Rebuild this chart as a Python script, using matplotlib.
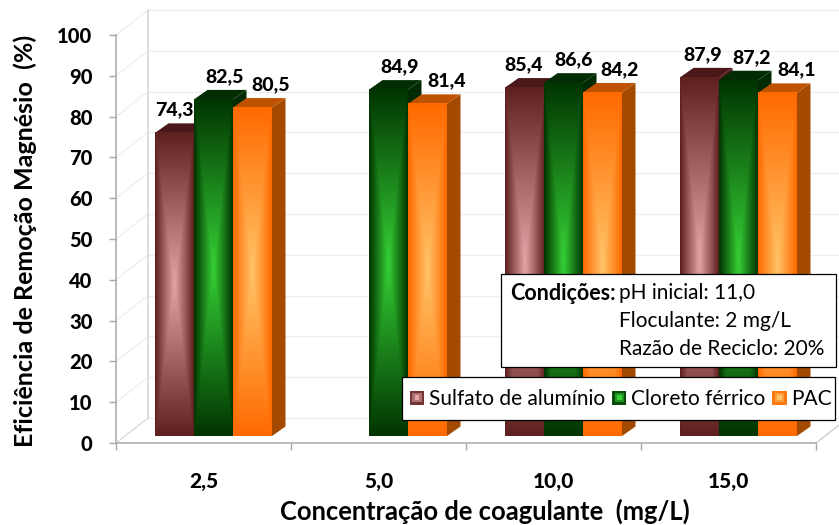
import numpy as np
import matplotlib
matplotlib.use('Agg')
import matplotlib.pyplot as plt
from matplotlib.colors import to_rgb
from matplotlib.legend_handler import HandlerBase
from matplotlib.patches import Patch, Polygon, Rectangle

# valores
concentracoes = ['2,5', '5,0', '10,0', '15,0']
sulfato = [74.3, np.nan, 85.4, 87.9]
cloreto = [82.5, 84.9, 86.6, 87.2]
pac = [80.5, 81.4, 84.2, 84.1]
series_names = ['Sulfato de alumínio', 'Cloreto férrico', 'PAC']
y_ticks = list(range(0, 101, 10))
x_edges = [-0.5, 0.5, 1.5, 2.5, 3.5]

# estilo: escuro, claro, lateral, topo
colors = [
    ('#5f2020', '#e3a5a5', '#4c1b1b', '#4a1818'),
    ('#013501', '#35d035', '#032b03', '#022c02'),
    ('#ff6a00', '#ffc468', '#a34a00', '#bf5200'),
]
# deslocamento dos rotulos (pixels), por serie
label_dx = [
    [0, 0, -1, 3],
    [11, 11, 10, 13],
    [18, 19, 17, 19],
]

W, H = 839, 525
plt.rcParams['font.family'] = ['Lato', 'DejaVu Sans']
fig = plt.figure(figsize=(W / 100, H / 100), dpi=100)
ax = fig.add_axes([116 / W, 1 - 443 / H, 700 / W, 408 / H])
ax.set_xlim(-0.5, 3.5)
ax.set_ylim(0, 100)

PX = 4 / 700
PY = 100 / 408
bar_w = 39 * PX
group_shift = 10 * PX
base = 7 * PY
depth_x, depth_y = 13.5 * PX, 9.5 * PY
wall_x, wall_y = 32 * PX, 25 * PY
grid_c = '#eeeeee'


def fade(dark, light):
    # gradiente retangular: escuro nas bordas, claro no centro
    u, v = np.meshgrid(np.linspace(-1, 1, 41), np.linspace(-1, 1, 121))
    t = (1 - np.maximum(np.abs(u), np.abs(v)))[..., None]
    return np.array(to_rgb(dark)) * (1 - t) + np.array(to_rgb(light)) * t


# paredes do fundo
for y in y_ticks:
    ax.plot([-0.5, -0.5 + wall_x], [y, y + wall_y], color=grid_c, lw=0.9, clip_on=False, zorder=1)
    ax.plot([-0.5 + wall_x, 4.2], [y + wall_y, y + wall_y], color=grid_c, lw=0.9, clip_on=False, zorder=1)
ax.plot([-0.5 + wall_x] * 2, [wall_y, 100 + wall_y], color='#d4d4d4', lw=1.1, clip_on=False, zorder=1.5)
ax.plot([3.5, 3.5 + wall_x], [0, wall_y], color='#c8c8c8', lw=0.9, clip_on=False, zorder=1.5)
ax.plot([-0.5, -0.5 + wall_x], [0, wall_y], color='#dddddd', lw=0.9, clip_on=False, zorder=1.5)

z = 2
for j, values in enumerate([sulfato, cloreto, pac]):
    dark, light, side, top = colors[j]
    xs = np.arange(len(values)) + group_shift + (j - 1.5) * bar_w
    bars = ax.bar(xs, values, bar_w, bottom=base, align='edge', color=dark, clip_on=False, zorder=z + 1)
    for i, rect in enumerate(bars):
        if np.isnan(values[i]):
            continue
        l, r = rect.get_x(), rect.get_x() + bar_w
        b, t = base, base + values[i]
        zz = z + 0.1 * i
        ax.add_patch(Polygon([(r, b), (r + depth_x, b + depth_y), (r + depth_x, t + depth_y), (r, t)],
                             fc=side, ec='none', clip_on=False, zorder=zz))
        ax.add_patch(Polygon([(l, t), (r, t), (r + depth_x, t + depth_y), (l + depth_x, t + depth_y)],
                             fc=top, ec='none', clip_on=False, zorder=zz))
        ax.imshow(fade(dark, light), extent=(l, r, b, t), aspect='auto', interpolation='bilinear',
                  clip_on=False, zorder=z + 1 + 0.1 * i)
        ax.annotate(f'{values[i]:.1f}'.replace('.', ','), (l + bar_w / 2, t), xytext=(label_dx[j][i] * 0.72, 23 * 0.72),
                    textcoords='offset points', ha='center', va='center', fontsize=14,
                    fontweight='black', color='black', zorder=20, annotation_clip=False)
    z += 2

ax.set_xlim(-0.5, 3.5)
ax.set_ylim(0, 100)

for name in ['top', 'right']:
    ax.spines[name].set_visible(False)
for name in ['left', 'bottom']:
    ax.spines[name].set_color('#a8a8a8')
    ax.spines[name].set_linewidth(1.1)

ax.set_yticks(y_ticks)
ax.set_xticks(x_edges)
ax.set_xticklabels([])
ax.set_xticks(range(len(concentracoes)), concentracoes, minor=True, fontsize=15, fontweight='black')
ax.tick_params(axis='x', which='minor', length=0, pad=21)
ax.tick_params(axis='both', which='major', length=5, width=1, color='#a8a8a8')
ax.tick_params(axis='y', labelsize=14.5, pad=12)
for lab in ax.get_yticklabels():
    lab.set_fontweight('black')

ax.set_xlabel('Concentração de coagulante  (mg/L)', fontsize=18.4, fontweight='bold')
ax.xaxis.set_label_coords((485 - 116) / 700, -(511 - 443) / 408, transform=ax.transAxes)
ax.xaxis.label.set_va('center')
ax.set_ylabel('Eficiência de Remoção Magnésio  (%)', fontsize=18, fontweight='bold')
ax.yaxis.set_label_coords((25 - 116) / 700, (443 - 241) / 408, transform=ax.transAxes)
ax.yaxis.label.set_va('center')


class GradientSwatch(HandlerBase):
    # amostra da legenda com o mesmo gradiente das barras
    def create_artists(self, legend, orig, xd, yd, width, height, fontsize, trans):
        d, l = np.array(orig.get_edgecolor()[:3]), np.array(orig.get_facecolor()[:3])
        out = []
        for k, f in enumerate([0.15, 0.6, 1.0]):
            ins = k * width * 0.17
            out.append(Rectangle((-xd + ins, -yd + ins), width - 2 * ins, height - 2 * ins,
                                 fc=d * (1 - f) + l * f, ec='none', transform=trans))
        return out


# moldura da legenda
ax.add_patch(Rectangle((401.5 / W, 1 - 420 / H), 433.5 / W, 43 / H, transform=fig.transFigure,
                       fc='white', ec='black', lw=0.9, clip_on=False, zorder=29))
handles = [Patch(fc=c[1], ec=c[0], label=n) for c, n in zip(colors, series_names)]
leg = ax.legend(handles=handles, handler_map={Patch: GradientSwatch()}, ncol=3, frameon=False,
                loc='center left', bbox_to_anchor=(410 / W, 1 - 399 / H), bbox_transform=fig.transFigure,
                borderaxespad=0, borderpad=0, fontsize=15, handlelength=0.68, handleheight=0.68,
                handletextpad=0.24, columnspacing=0.33)
leg.set_zorder(30)

# caixa de condicoes
fig.add_artist(Rectangle((501 / W, 1 - 367 / H), 334.5 / W, 93.5 / H, transform=fig.transFigure,
                         fc='white', ec='black', lw=0.9, zorder=5))
fig.text(510 / W, 1 - 293 / H, 'Condições:', fontsize=15.5, fontweight='bold', va='center', zorder=6)
cond_lines = ['pH inicial: 11,0', 'Floculante: 2 mg/L', 'Razão de Reciclo: 20%']
for line, py in zip(cond_lines, [293, 321, 349]):
    fig.text(619 / W, 1 - py / H, line, fontsize=15, va='center', zorder=6)

fig.savefig('out.png', dpi=100)
plt.close('all')
